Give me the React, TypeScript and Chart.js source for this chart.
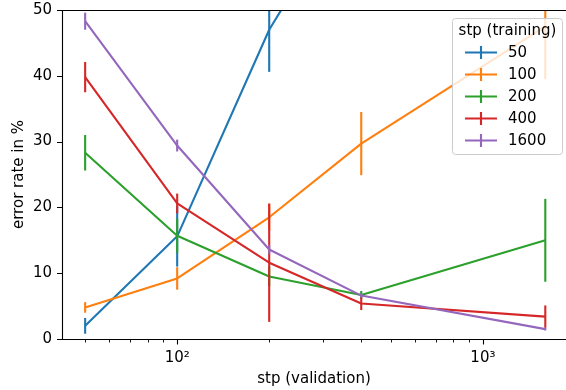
import React, { useEffect, useRef } from "react";
import { Chart, registerables } from "chart.js";

Chart.register(...registerables);

// ---- data ----
const xValues = [50, 100, 200, 400, 1600];
const seriesNames = ["50", "100", "200", "400", "1600"];
const colors = ["#1f77b4", "#ff7f0e", "#2ca02c", "#d62728", "#9467bd"];

const s50 = [2.0, 15.6, 47.0, 70.0, 78.0];
const e50 = [1.2, 4.6, 6.4, 8.0, 8.0];
const s100 = [4.8, 9.2, 18.5, 29.7, 47.5];
const e100 = [0.8, 1.7, 2.0, 4.8, 8.0];
const s200 = [28.3, 15.7, 9.5, 6.7, 15.0];
const e200 = [2.7, 2.6, 1.5, 0.6, 6.3];
const s400 = [39.8, 20.6, 11.6, 5.4, 3.4];
const e400 = [2.3, 1.5, 9.0, 1.0, 1.7];
const s1600 = [48.3, 29.4, 13.6, 6.6, 1.5];
const e1600 = [1.3, 0.9, 0.7, 0.3, 0.2];

const yTicks = [0, 10, 20, 30, 40, 50];
const xMajorTicks = [100, 1000];
const xMajorLabels = ["10\u00B2", "10\u00B3"];
const xMinorTicks = [50, 60, 70, 80, 90, 200, 300, 400, 500, 600, 700, 800, 900];

const seriesValues = [s50, s100, s200, s400, s1600];
const seriesErrors = [e50, e100, e200, e400, e1600];

const FONT = "DejaVu Sans";
const FS = 15;

const errorBarPlugin = {
  id: "errorBars",
  afterDatasetDraw(chart: any, args: any) {
    const idx = args.index;
    const vals = seriesValues[idx];
    const errs = seriesErrors[idx];
    const { ctx, chartArea, scales } = chart;
    ctx.save();
    ctx.beginPath();
    ctx.rect(chartArea.left, chartArea.top, chartArea.right - chartArea.left, chartArea.bottom - chartArea.top);
    ctx.clip();
    ctx.strokeStyle = colors[idx];
    ctx.lineWidth = 2.1;
    ctx.lineCap = "butt";
    xValues.forEach((x, i) => {
      const px = scales.x.getPixelForValue(x);
      const y1 = scales.y.getPixelForValue(vals[i] + errs[i]);
      const y2 = scales.y.getPixelForValue(vals[i] - errs[i]);
      ctx.beginPath();
      ctx.moveTo(px, y1);
      ctx.lineTo(px, y2);
      ctx.stroke();
    });
    ctx.restore();
  },
};

const axesPlugin = {
  id: "mplAxes",
  afterDatasetsDraw(chart: any) {
    const { ctx, chartArea, scales } = chart;
    const { left, top, right, bottom } = chartArea;
    ctx.save();
    ctx.strokeStyle = "#000";
    ctx.lineWidth = 1.1;
    ctx.lineCap = "butt";
    // spines
    ctx.beginPath();
    ctx.moveTo(left + 0.5, top);
    ctx.lineTo(left + 0.5, bottom + 1);
    ctx.moveTo(left, bottom + 0.5);
    ctx.lineTo(right, bottom + 0.5);
    ctx.moveTo(left, top + 0.5);
    ctx.lineTo(right, top + 0.5);
    ctx.stroke();
    // y ticks
    ctx.beginPath();
    yTicks.forEach((v) => {
      const py = Math.round(scales.y.getPixelForValue(v)) + 0.5;
      ctx.moveTo(left, py);
      ctx.lineTo(left - 5, py);
    });
    // x major
    xMajorTicks.forEach((v) => {
      const px = Math.round(scales.x.getPixelForValue(v)) + 0.5;
      ctx.moveTo(px, bottom);
      ctx.lineTo(px, bottom + 5.5);
    });
    ctx.stroke();
    ctx.lineWidth = 0.9;
    ctx.beginPath();
    xMinorTicks.forEach((v) => {
      const px = Math.round(scales.x.getPixelForValue(v)) + 0.5;
      ctx.moveTo(px, bottom);
      ctx.lineTo(px, bottom + 3.5);
    });
    ctx.stroke();
    ctx.restore();
  },
  afterDraw(chart: any) {
    const { ctx } = chart;
    ctx.save();
    const bx = 452, by = 18, bw = 110, bh = 136;
    ctx.beginPath();
    (ctx as any).roundRect(bx + 0.5, by + 0.5, bw, bh, 3);
    ctx.fillStyle = "rgba(255,255,255,0.8)";
    ctx.fill();
    ctx.strokeStyle = "#cccccc";
    ctx.lineWidth = 1;
    ctx.stroke();
    ctx.fillStyle = "#000";
    ctx.font = `${FS}px "${FONT}"`;
    ctx.textBaseline = "middle";
    ctx.textAlign = "center";
    ctx.fillText("stp (training)", bx + bw / 2 + 0.5, 31);
    ctx.textAlign = "left";
    seriesNames.forEach((name, i) => {
      const y = 52.5 + i * 22;
      ctx.strokeStyle = colors[i];
      ctx.lineWidth = 2.1;
      ctx.beginPath();
      ctx.moveTo(465, y);
      ctx.lineTo(497, y);
      ctx.moveTo(481, y - 6.5);
      ctx.lineTo(481, y + 6.5);
      ctx.stroke();
      ctx.fillStyle = "#000";
      ctx.fillText(name, 508, y + 1);
    });
    ctx.restore();
  },
};

export default function App() {
  const ref = useRef<HTMLCanvasElement | null>(null);
  useEffect(() => {
    document.body.style.margin = "0";
    if (!ref.current) return;
    const datasets = seriesNames.map((name, i) => ({
      label: name,
      data: xValues.map((x, j) => ({ x, y: seriesValues[i][j] })),
      borderColor: colors[i],
      backgroundColor: colors[i],
      borderWidth: 2.1,
      pointRadius: 0,
      showLine: true,
      fill: false,
      tension: 0,
      borderJoinStyle: "round" as const,
      order: seriesNames.length - 1 - i,
    }));
    const chart = new Chart(ref.current, {
      type: "scatter",
      data: { datasets },
      plugins: [errorBarPlugin, axesPlugin],
      options: {
        animation: false,
        responsive: false,
        layout: { padding: { top: 10, right: 0, left: 0, bottom: 0 } },
        plugins: { legend: { display: false }, tooltip: { enabled: false } },
        scales: {
          x: {
            type: "logarithmic",
            min: 42,
            max: 1870,
            grid: { display: false, drawTicks: false },
            border: { display: false },
            afterBuildTicks: (scale: any) => {
              scale.ticks = xMajorTicks.map((v) => ({ value: v }));
            },
            afterFit: (scale: any) => {
              scale.height = 51;
              scale.paddingLeft = 0;
              scale.paddingRight = 0;
            },
            ticks: {
              autoSkip: false,
              maxRotation: 0,
              padding: 10,
              color: "#000",
              font: { family: FONT, size: FS },
              callback: (v: any) => {
                const k = xMajorTicks.indexOf(Number(v));
                return k >= 0 ? xMajorLabels[k] : "";
              },
            },
            title: {
              display: true,
              text: "stp (validation)",
              color: "#000",
              font: { family: FONT, size: FS },
              padding: { top: 0, bottom: 2 },
            },
          },
          y: {
            type: "linear",
            min: 0,
            max: 50,
            grid: { display: false, drawTicks: false },
            border: { display: false },
            afterBuildTicks: (scale: any) => {
              scale.ticks = yTicks.map((v) => ({ value: v }));
            },
            afterFit: (scale: any) => {
              scale.width = 62;
              scale.paddingTop = 0;
              scale.paddingBottom = 0;
            },
            ticks: {
              padding: 10,
              color: "#000",
              font: { family: FONT, size: FS },
            },
            title: {
              display: true,
              text: "error rate in %",
              color: "#000",
              font: { family: FONT, size: FS },
              padding: { top: 10, bottom: 0 },
            },
          },
        },
      } as any,
    });
    return () => chart.destroy();
  }, []);
  return (
    <div style={{ width: 566, height: 390 }}>
      <canvas ref={ref} width={566} height={390} style={{ display: "block" }} />
    </div>
  );
}
